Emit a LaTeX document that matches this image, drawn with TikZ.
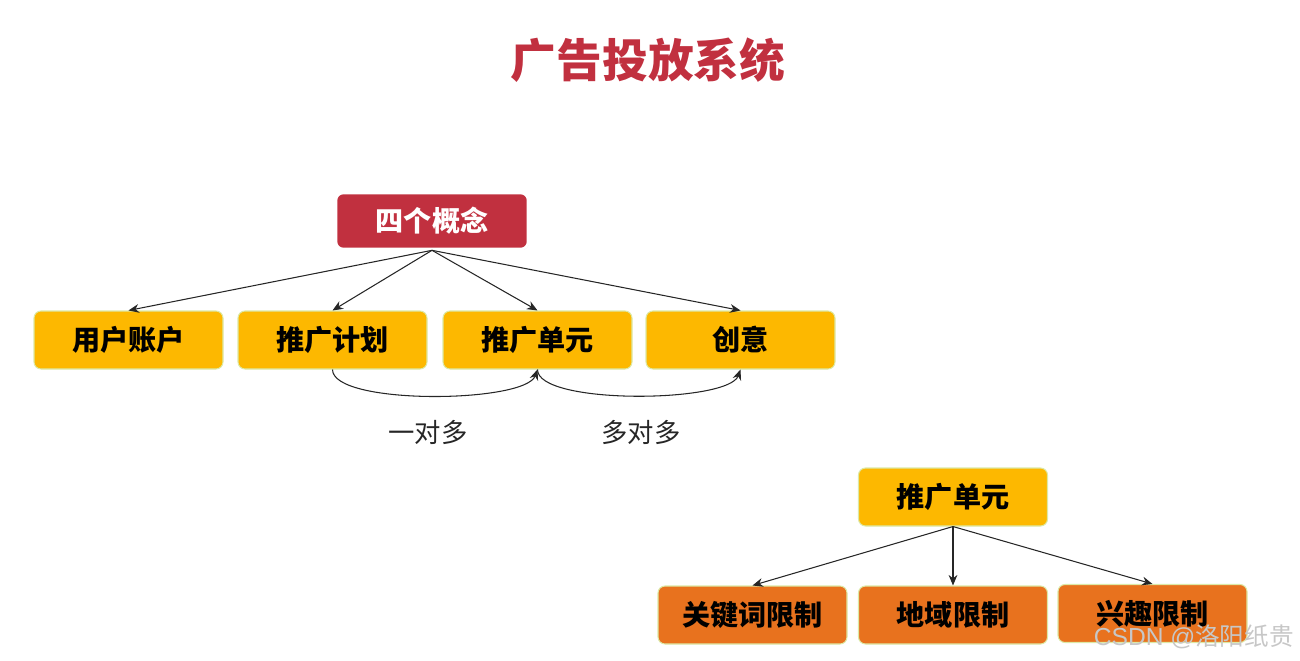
\documentclass[tikz,border=0pt]{standalone}
\usepackage{fontspec}
\setmainfont{Noto Sans CJK SC}
\newfontfamily\latinsans{Liberation Sans}
\usetikzlibrary{positioning, arrows.meta, shadows}
\definecolor{adred}{HTML}{C1303F}
\definecolor{adamber}{HTML}{FDB800}
\definecolor{adorange}{HTML}{E8721E}
\definecolor{adrim}{HTML}{DCE9A6}

\begin{document}
\begin{tikzpicture}[
    % Same thin dark connectors everywhere
    link/.style={draw=black!85, line width=0.6pt, -{Stealth[length=6pt, width=5pt]}},
    % Default style for the boxes
    card/.style={rounded corners=4pt, minimum width=3.78cm, minimum height=1.16cm,
      inner sep=0pt, font=\bfseries\fontsize{16}{19}\selectfont, text=black}
  ]
  % --- Fix the page size ---
  \useasboundingbox (0,0) rectangle (26,-13.22);

  % --- Define looks of the three kinds of box ---
  \tikzstyle{head box}=[card, fill=adred, draw=white, line width=1.5pt,
    drop shadow={opacity=0.35, shadow xshift=0.5pt, shadow yshift=-0.5pt},
    minimum width=3.84cm, minimum height=1.12cm, text=white]
  \tikzstyle{item box}=[card, fill=adamber, draw=adrim, line width=0.6pt]
  \tikzstyle{rule box}=[card, fill=adorange, draw=adrim, line width=0.6pt]

  % --- Title ---
  \node[text=adred, font=\bfseries\fontsize{26}{30}\selectfont] (title) at (12.96, -1.2) {广告投放系统};

  % --- Four concepts ---
  \node[head box] (four) at (8.64, -4.42) {四个概念};
  \node[item box] (acct) at (2.57, -6.8) {用户账户};
  \node[item box] (plan) at (6.65, -6.8) {推广计划};
  \node[item box] (unit) at (10.75, -6.8) {推广单元};
  \node[item box] (idea) at (14.81, -6.8) {创意};

  \foreach \n in {acct, plan, unit, idea} {
    \draw[link] (four.south) -- (\n.north);
  }

  % Relations between neighbouring concepts
  \draw[link] (plan.south) to[out=-90, in=-110, looseness=0.45] (unit.south);
  \draw[link] (unit.south) to[out=-90, in=-110, looseness=0.45] (idea.south);
  \node[font=\fontsize{15}{18}\selectfont, text=black!85] (onemany) at (8.56, -8.64) {一对多};
  \node[font=\fontsize{15}{18}\selectfont, text=black!85] (manymany) at (12.82, -8.64) {多对多};

  % --- Limits of one unit ---
  \node[item box] (unit2) at (19.06, -9.94) {推广单元};
  \node[rule box] (kw) at (15.05, -12.3) {关键词限制};
  \node[rule box] (geo) at (19.06, -12.3) {地域限制};
  \node[rule box] (hobby) at (23.05, -12.27) {兴趣限制};

  \foreach \n in {kw, geo, hobby} {
    \draw[link] (unit2.south) -- (\n.north);
  }

  % Watermark
  \node[anchor=east, text=black!22, font=\fontsize{14}{16}\selectfont] (mark) at (26.0, -12.74) {{\latinsans CSDN @}洛阳纸贵};
\end{tikzpicture}
\end{document}
